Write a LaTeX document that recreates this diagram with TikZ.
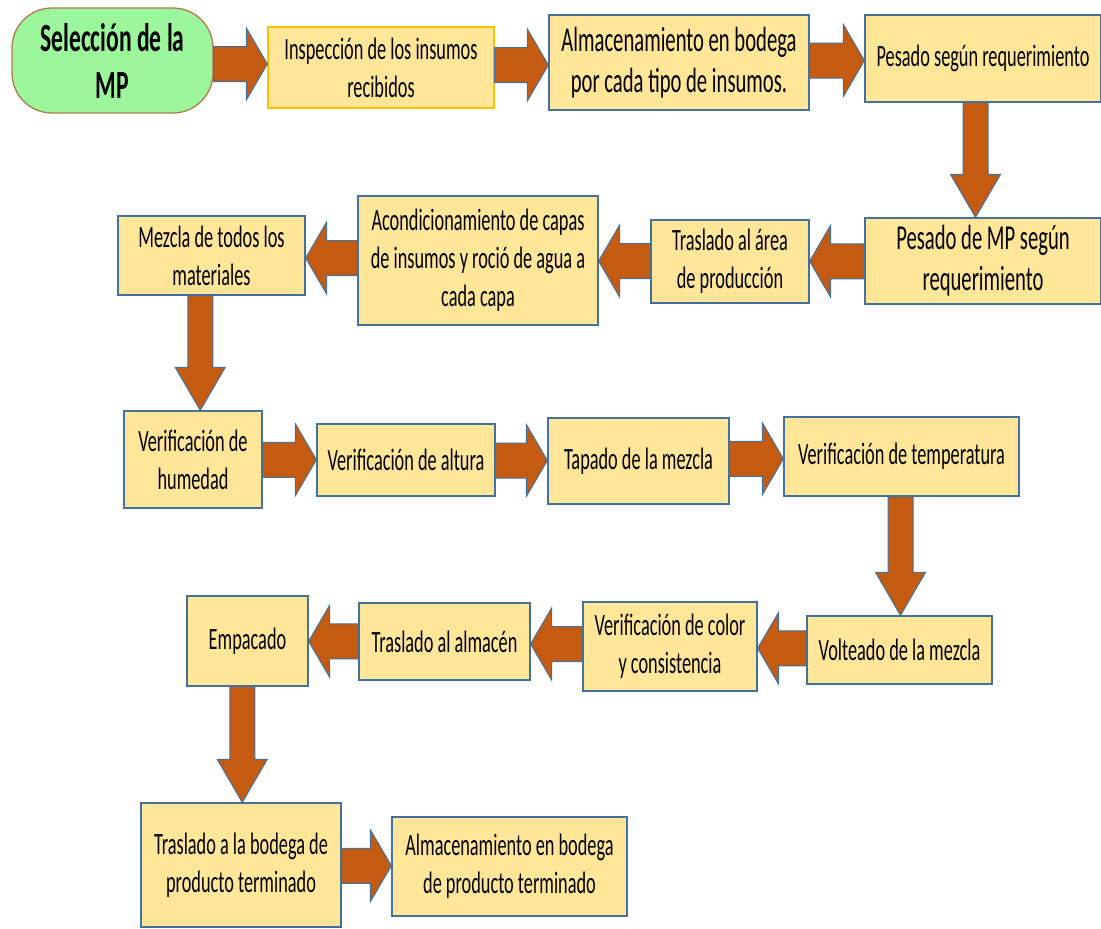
\documentclass[tikz,border=0pt]{standalone}
\usepackage{fontspec}
\setmainfont{Carlito}[FakeStretch=0.59]
\usetikzlibrary{calc}

\definecolor{boxfill}{HTML}{FFE699}
\definecolor{boxline}{HTML}{41719C}
\definecolor{arrowfill}{HTML}{C55A11}
\definecolor{startfill}{HTML}{9CF79C}
\definecolor{startline}{HTML}{B07A50}
\definecolor{goldline}{HTML}{FFC000}

\newcommand{\normaltext}{\fontsize{31}{38}\selectfont}
\newcommand{\bigtext}{\fontsize{35}{41}\selectfont}
\newcommand{\titletext}{\fontsize{40}{47}\selectfont\bfseries}

% block arrows between two named nodes
\newcommand{\rarrow}[2]{%
  \path[blockarrow] let \p1=(#1.east), \p2=(#2.west), \n1={(\y1+\y2)/2} in
    (\x1,\n1+17.5pt) -- (\x2-21pt,\n1+17.5pt) -- (\x2-21pt,\n1+36pt) -- (\x2,\n1)
    -- (\x2-21pt,\n1-36pt) -- (\x2-21pt,\n1-17.5pt) -- (\x1,\n1-17.5pt) -- cycle;}
\newcommand{\larrow}[2]{%
  \path[blockarrow] let \p1=(#1.west), \p2=(#2.east), \n1={(\y1+\y2)/2} in
    (\x1,\n1+17.5pt) -- (\x2+21pt,\n1+17.5pt) -- (\x2+21pt,\n1+36pt) -- (\x2,\n1)
    -- (\x2+21pt,\n1-36pt) -- (\x2+21pt,\n1-17.5pt) -- (\x1,\n1-17.5pt) -- cycle;}
\newcommand{\darrow}[3][0pt]{%
  \path[blockarrow] let \p1=(#2.south), \p2=(#3.north), \n1={(\x1+\x2)/2+#1} in
    (\n1-12.5pt,\y1) -- (\n1-12.5pt,\y2+43pt) -- (\n1-25pt,\y2+43pt) -- (\n1,\y2)
    -- (\n1+25pt,\y2+43pt) -- (\n1+12.5pt,\y2+43pt) -- (\n1+12.5pt,\y1) -- cycle;}

\begin{document}
\begin{tikzpicture}[x=1pt, y=-1pt,
    paso/.style={draw=boxline, line width=1.3pt, fill=boxfill, align=center, inner sep=0pt, font=\normaltext},
    blockarrow/.style={draw=boxline, line width=1pt, fill=arrowfill, line join=miter}]

    \useasboundingbox (0,0) rectangle (1101,929);
    \path[fill=white] (0,0) rectangle (1101,929);

    % row 1
    \node[draw=startline, line width=1.3pt, fill=startfill, rounded corners=40pt, align=center,
        minimum width=201pt, minimum height=105pt, inner sep=0pt, font=\titletext] (sel) at (112.5,60.5) {Selección de la\\MP};
    \node[paso, draw=goldline, minimum width=226pt, minimum height=81pt] (insp) at (381,67.5) {Inspección de los insumos\\recibidos};
    \node[paso, font=\bigtext, minimum width=260pt, minimum height=95pt] (alm) at (679,62.5) {Almacenamiento en bodega\\por cada tipo de insumos.};
    \node[paso, minimum width=236pt, minimum height=87pt] (pes) at (983,58.5) {Pesado según requerimiento};

    % row 2
    \node[paso, font=\bigtext, minimum width=236pt, minimum height=86pt] (pesmp) at (983,261) {Pesado de MP según\\requerimiento};
    \node[paso, minimum width=158pt, minimum height=83pt] (tras) at (730,261.5) {Traslado al área\\de producción};
    \node[paso, minimum width=240pt, minimum height=129pt] (acon) at (478,260.5) {Acondicionamiento de capas\\de insumos y roció de agua a\\cada capa};
    \node[paso, minimum width=187pt, minimum height=79pt] (mez) at (211.5,255.5) {Mezcla de todos los\\materiales};

    % row 3
    \node[paso, minimum width=138pt, minimum height=97pt] (hum) at (193,459.5) {Verificación de\\humedad};
    \node[paso, minimum width=178pt, minimum height=72pt] (alt) at (406,460) {Verificación de altura};
    \node[paso, minimum width=181pt, minimum height=86pt] (tap) at (638.5,461) {Tapado de la mezcla};
    \node[paso, minimum width=235pt, minimum height=79pt] (temp) at (901.5,456.5) {Verificación de temperatura};

    % row 4
    \node[paso, minimum width=185pt, minimum height=68pt] (volt) at (899.5,650) {Volteado de la mezcla};
    \node[paso, minimum width=174pt, minimum height=89pt] (col) at (670,646.5) {Verificación de color\\y consistencia};
    \node[paso, minimum width=171pt, minimum height=77pt] (talm) at (444.5,641.5) {Traslado al almacén};
    \node[paso, minimum width=121pt, minimum height=90pt] (emp) at (247.5,641) {Empacado};

    % row 5
    \node[paso, minimum width=200pt, minimum height=124pt] (tbod) at (241,865) {Traslado a la bodega de\\producto terminado};
    \node[paso, minimum width=235pt, minimum height=99pt] (fin) at (509.5,866.5) {Almacenamiento en bodega\\de producto terminado};

    % arrows
    \rarrow{sel}{insp}
    \rarrow{insp}{alm}
    \rarrow{alm}{pes}
    \darrow[-7.5pt]{pes}{pesmp}
    \larrow{pesmp}{tras}
    \larrow{tras}{acon}
    \larrow{acon}{mez}
    \darrow[-2pt]{mez}{hum}
    \rarrow{hum}{alt}
    \rarrow{alt}{tap}
    \rarrow{tap}{temp}
    \darrow{temp}{volt}
    \larrow{volt}{col}
    \larrow{col}{talm}
    \larrow{talm}{emp}
    \darrow[-2pt]{emp}{tbod}
    \rarrow{tbod}{fin}

\end{tikzpicture}
\end{document}
